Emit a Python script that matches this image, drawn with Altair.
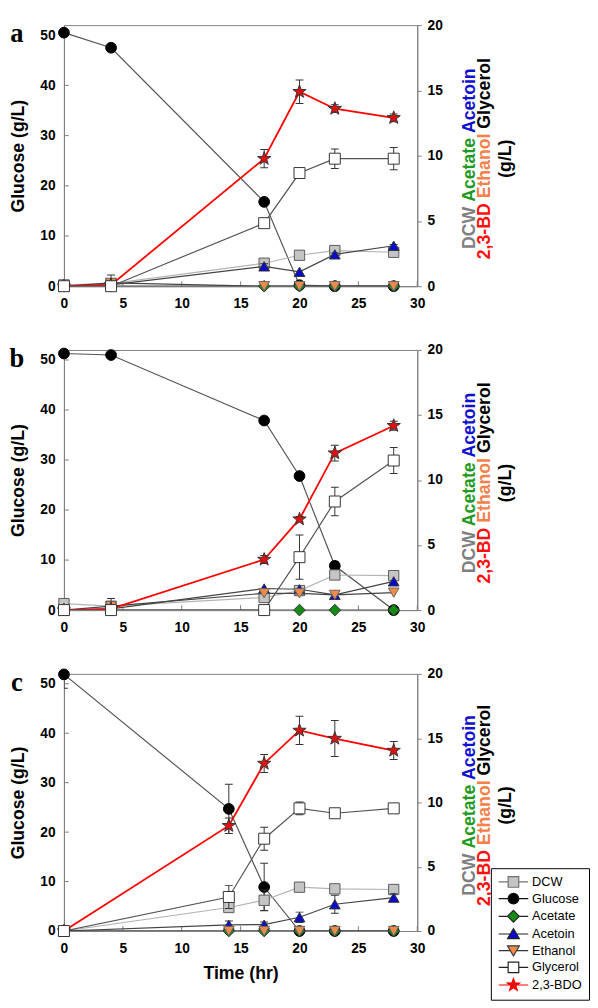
import altair as alt
import pandas as pd

FONT = "Liberation Sans"
SERIF = "Liberation Serif"

# ---------------- data ----------------
SERIES = ["DCW", "Glucose", "Acetate", "Acetoin", "Ethanol", "Glycerol", "2,3-BDO"]

time_a = [0, 4, 17, 20, 23, 28]
time_b = [0, 4, 17, 20, 23, 28]
time_c = [0, 14, 17, 20, 23, 28]

# panel a
glucose_a = [50.5, 47.5, 16.8, 0.2, 0.0, 0.0]
glucose_a_err = [0, 0, 0, 0, 0, 0]
dcw_a = [0.1, 0.2, 1.76, 2.37, 2.73, 2.6]
dcw_a_err = [0, 0, 0.2, 0, 0.15, 0]
acetate_a = [0, 0, 0, 0, 0, 0]
acetate_a_err = [0, 0, 0, 0, 0, 0]
acetoin_a = [0.0, 0.1, 1.52, 1.1, 2.44, 3.1]
acetoin_a_err = [0, 0, 0.2, 0, 0.1, 0.1]
ethanol_a = [0.0, 0.25, 0, 0, 0, 0]
ethanol_a_err = [0, 0.6, 0, 0, 0, 0]
glycerol_a = [0.0, 0.0, 4.83, 8.67, 9.77, 9.77]
glycerol_a_err = [0, 0, 0.3, 0, 0.75, 0.85]
bdo_a = [0.0, 0.1, 9.77, 14.9, 13.6, 12.9]
bdo_a_err = [0, 0, 0.7, 0.9, 0.3, 0.3]

# panel b
glucose_b = [51.3, 51.0, 37.9, 26.8, 8.85, 0.0]
glucose_b_err = [0, 0, 0.5, 0, 0.8, 0]
dcw_b = [0.5, 0.3, 0.97, 1.5, 2.7, 2.65]
dcw_b_err = [0.4, 0, 0.3, 0, 0.2, 0]
acetate_b = [0, 0, 0, 0, 0, 0]
acetate_b_err = [0, 0, 0, 0, 0, 0]
acetoin_b = [0.0, 0.1, 1.66, 1.6, 1.17, 2.21]
acetoin_b_err = [0, 0, 0, 0, 0, 0]
ethanol_b = [0.0, 0.3, 1.29, 1.29, 1.17, 1.34]
ethanol_b_err = [0, 0.6, 0, 0, 0, 0]
glycerol_b = [0.0, 0.0, 0.0, 4.07, 8.35, 11.5]
glycerol_b_err = [0, 0, 0, 1.7, 1.1, 1.0]
bdo_b = [0.0, 0.1, 3.89, 6.99, 12.07, 14.18]
bdo_b_err = [0, 0, 0.3, 0.2, 0.6, 0.35]

# panel c
glucose_c = [51.9, 24.7, 8.9, 0.0, 0.0, 0.0]
glucose_c_err = [2.8, 5.0, 4.8, 0, 0, 0]
dcw_c = [0.0, 1.83, 2.39, 3.41, 3.28, 3.23]
dcw_c_err = [0, 0.3, 0.8, 0, 0, 0]
acetate_c = [0, 0, 0, 0, 0, 0]
acetate_c_err = [0, 0, 0, 0, 0, 0]
acetoin_c = [0.0, 0.48, 0.5, 1.07, 2.08, 2.6]
acetoin_c_err = [0, 0.3, 0.2, 0.4, 0.7, 0.3]
ethanol_c = [0, 0, 0, 0, 0, 0]
ethanol_c_err = [0, 0, 0, 0, 0, 0]
glycerol_c = [0.0, 2.65, 7.18, 9.54, 9.16, 9.54]
glycerol_c_err = [0, 0.9, 0.9, 0.5, 0, 0]
bdo_c = [0.0, 8.19, 13.03, 15.6, 14.97, 14.04]
bdo_c_err = [0, 0.6, 0.7, 1.1, 1.4, 0.7]

x_ticks = [0, 5, 10, 15, 20, 25, 30]
left_ticks = [0, 10, 20, 30, 40, 50]
right_ticks = [0, 5, 10, 15, 20]

# ---------------- styles ----------------
STAR = ("M0,-1L0.235,-0.324L0.951,-0.309L0.38,0.124L0.588,0.809L0,0.4"
        "L-0.588,0.809L-0.38,0.124L-0.951,-0.309L-0.235,-0.324Z")
STYLE = {
    "DCW": dict(shape="square", size=110, fill="#c4c4c4", stroke="#5a5a5a", line="#b4b4b4", lw=1.2),
    "Glucose": dict(shape="circle", size=120, fill="#000000", stroke="#000000", line="#555555", lw=1.2),
    "Acetate": dict(shape="diamond", size=140, fill="#138a13", stroke="#333333", line="#444444", lw=1.2),
    "Acetoin": dict(shape="triangle-up", size=120, fill="#0a0acc", stroke="#333333", line="#444444", lw=1.2),
    "Ethanol": dict(shape="triangle-down", size=120, fill="#f08a4b", stroke="#666666", line="#444444", lw=1.2),
    "Glycerol": dict(shape="square", size=125, fill="#ffffff", stroke="#333333", line="#555555", lw=1.2),
    "2,3-BDO": dict(shape=STAR, size=200, fill="#e01010", stroke="#333333", line="#ff0000", lw=1.8),
}

LEG_LINE = "M-1,0H0.6M2.4,0H4"
LEG_SHAPES = [
    LEG_LINE + "M0.6,-0.9H2.4V0.9H0.6Z",
    LEG_LINE + "M0.6,0A0.9,0.9 0 1,0 2.4,0A0.9,0.9 0 1,0 0.6,0Z",
    "M-1,0H0.5M2.5,0H4M1.5,-1L2.5,0L1.5,1L0.5,0Z",
    "M-1,0H1M2,0H4M1.5,-0.9L2.5,0.8H0.5Z",
    "M-1,0H1M2,0H4M1.5,0.9L2.5,-0.8H0.5Z",
    LEG_LINE + "M0.6,-0.9H2.4V0.9H0.6Z",
    "M-1,0H0.9M2.1,0H4M1.5,-1.1L1.765,-0.364L2.546,-0.34L1.928,0.139L2.147,0.89"
    "L1.5,0.45L0.853,0.89L1.072,0.139L0.454,-0.34L1.235,-0.364Z",
]
LEG_FILLS = ["#c4c4c4", "#000000", "#138a13", "#0a0acc", "#f08a4b", "#ffffff", "#e01010"]
LEG_STROKES = ["#707070", "#111111", "#222222", "#222222", "#333333", "#222222", "#ff0000"]

W = 360
ONE = pd.DataFrame({"k": [0]})


def make_df(times, vals, errs):
    df = pd.DataFrame({"t": times, "v": vals, "e": errs})
    df["lo"] = df["v"] - df["e"]
    df["hi"] = df["v"] + df["e"]
    return df


def panel(letter, times, glucose, glucose_err, right, H, xtitle, legend_y=None):
    xs = alt.Scale(domain=[0, 30], nice=False)
    xaxis = alt.Axis(values=x_ticks, ticks=False, tickSize=0, labelPadding=11, labelFontSize=14,
                     labelFontWeight="bold", labelFlush=False, grid=False, titleFontSize=18,
                     titleFontWeight="bold", titlePadding=9)
    yl = alt.Scale(domain=[0, 52], nice=False)
    laxis = alt.Axis(values=left_ticks, ticks=False, tickSize=0, labelPadding=9, labelFontSize=14,
                     labelFontWeight="bold", labelFlush=False, grid=False, titleFontSize=18,
                     titleFontWeight="bold", titlePadding=13)
    yr = alt.Scale(domain=[0, 20], nice=False)
    raxis = alt.Axis(orient="right", values=right_ticks, tickSize=4, labelPadding=6, labelFontSize=14,
                     labelFontWeight="bold", labelFlush=False, grid=False)

    def X(f="t"):
        return alt.X(f + ":Q", scale=xs, axis=xaxis, title=xtitle)

    def YL(f="v"):
        return alt.Y(f + ":Q", scale=yl, axis=laxis, title="Glucose (g/L)")

    def YR(f="v"):
        return alt.Y(f + ":Q", scale=yr, axis=raxis, title=None)

    def series_layers(df, st, Y):
        out = [alt.Chart(df).mark_line(color=st["line"], strokeWidth=st["lw"], clip=True)
               .encode(x=X(), y=Y("v"))]
        e = df[df["e"] > 0]
        if len(e):
            out.append(alt.Chart(e).mark_rule(color="#333333", strokeWidth=1, clip=True)
                       .encode(x=X(), y=Y("lo"), y2="hi:Q"))
            for f in ("lo", "hi"):
                out.append(alt.Chart(e).mark_tick(orient="horizontal", size=8, thickness=1,
                                                  color="#333333", opacity=1, clip=True)
                           .encode(x=X(), y=Y(f)))
        out.append(alt.Chart(df).mark_point(filled=True, shape=st["shape"], size=st["size"],
                                            fill=st["fill"], stroke=st["stroke"], strokeWidth=1,
                                            opacity=1)
                   .encode(x=X(), y=Y("v")))
        return out

    # ---- left (glucose) layer ----
    left = []
    left.append(alt.Chart(pd.DataFrame({"t": x_ticks})).mark_rule(color="#808080")
                .encode(x=X(), y=alt.value(H), y2=alt.value(H - 5)))
    left.append(alt.Chart(pd.DataFrame({"v": left_ticks})).mark_rule(color="#808080")
                .encode(y=YL(), x=alt.value(0), x2=alt.value(5)))
    left += series_layers(make_df(times, glucose, glucose_err), STYLE["Glucose"], YL)
    left.append(alt.Chart(ONE).mark_text(text=letter, font=SERIF, fontSize=27, fontWeight="bold",
                                         align="center", baseline="middle", color="black")
                .encode(x=alt.value(-48), y=alt.value(9)))

    # ---- right layer (drawn in the original's order: glycerol on top) ----
    rl = []
    order = ["DCW", "Acetate", "Acetoin", "Ethanol", "2,3-BDO", "Glycerol"]
    rmap = {name: (vals, errs) for name, vals, errs in right}
    for name in order:
        vals, errs = rmap[name]
        rl += series_layers(make_df(times, vals, errs), STYLE[name], YR)

    # right axis title, multi-coloured, rotated
    cy = H / 2 + 3
    cols = [
        (W + 54, [("DCW", "#7f7f7f", 43), ("Acetate", "#1f9a1f", 65), ("Acetoin", "#1010d0", 66)]),
        (W + 69, [("2,3-BD", "#ff1010", 57), ("Ethanol", "#f4804a", 66), ("Glycerol", "#000000", 72)]),
        (W + 91, [("(g/L)", "#000000", 39)]),
    ]
    for cx, words in cols:
        total = sum(w for _, _, w in words) + 5 * (len(words) - 1)
        pos = cy + total / 2
        for word, color, w in words:
            rl.append(alt.Chart(ONE).mark_text(text=word, angle=270, align="left", baseline="middle",
                                               font=FONT, fontSize=18, fontWeight="bold", color=color)
                      .encode(x=alt.value(cx), y=alt.value(pos)))
            pos -= w + 5

    if legend_y is not None:
        leg = alt.Legend(title=None, orient="none", legendX=435, legendY=legend_y,
                         labelFont=FONT, labelFontSize=13, labelColor="black", labelOffset=21,
                         symbolSize=144, symbolStrokeWidth=1.2, rowPadding=1, padding=7,
                         strokeColor="black", fillColor="white", symbolOpacity=1)
        rl.append(alt.Chart(pd.DataFrame({"series": SERIES}))
                  .mark_point(filled=True, size=144, opacity=1, strokeWidth=1.2)
                  .encode(shape=alt.Shape("series:N", scale=alt.Scale(domain=SERIES, range=LEG_SHAPES), legend=leg),
                          fill=alt.Fill("series:N", scale=alt.Scale(domain=SERIES, range=LEG_FILLS), legend=leg),
                          stroke=alt.Stroke("series:N", scale=alt.Scale(domain=SERIES, range=LEG_STROKES), legend=leg))
                  .transform_filter("false"))

    return (alt.layer(alt.layer(*left), alt.layer(*rl))
            .resolve_scale(y="independent")
            .properties(width=W, height=H))


pa = panel("a", time_a, glucose_a, glucose_a_err, [
    ("DCW", dcw_a, dcw_a_err), ("Acetate", acetate_a, acetate_a_err),
    ("Acetoin", acetoin_a, acetoin_a_err), ("Ethanol", ethanol_a, ethanol_a_err),
    ("Glycerol", glycerol_a, glycerol_a_err), ("2,3-BDO", bdo_a, bdo_a_err)], 266, None)
pb = panel("b", time_b, glucose_b, glucose_b_err, [
    ("DCW", dcw_b, dcw_b_err), ("Acetate", acetate_b, acetate_b_err),
    ("Acetoin", acetoin_b, acetoin_b_err), ("Ethanol", ethanol_b, ethanol_b_err),
    ("Glycerol", glycerol_b, glycerol_b_err), ("2,3-BDO", bdo_b, bdo_b_err)], 265, None)
pc = panel("c", time_c, glucose_c, glucose_c_err, [
    ("DCW", dcw_c, dcw_c_err), ("Acetate", acetate_c, acetate_c_err),
    ("Acetoin", acetoin_c, acetoin_c_err), ("Ethanol", ethanol_c, ethanol_c_err),
    ("Glycerol", glycerol_c, glycerol_c_err), ("2,3-BDO", bdo_c, bdo_c_err)], 262, "Time (hr)",
    legend_y=198)

chart = (alt.vconcat(pa, pb, pc, spacing=31)
         .resolve_scale(shape="independent", fill="independent", stroke="independent")
         .properties(padding=0)
         .configure_view(stroke="#808080", strokeWidth=1)
         .configure_axis(labelFont=FONT, titleFont=FONT, labelColor="black", titleColor="black",
                         domainColor="#808080", tickColor="#808080", grid=False))

chart.save("out.html", embed_options={"renderer": "svg", "actions": False})
